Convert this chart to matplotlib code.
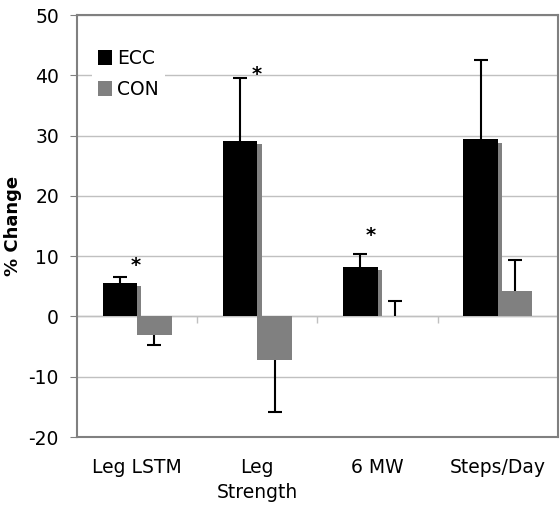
import numpy as np
import matplotlib
matplotlib.use("Agg")
import matplotlib.pyplot as plt

categories = ["Leg LSTM", "Leg\nStrength", "6 MW", "Steps/Day"]
ecc = [5.6, 29.1, 8.2, 29.4]
ecc_err = [0.9, 10.5, 2.1, 13.2]
con = [-3.15, -7.3, 0.0, 4.3]
con_err = [1.55, 8.6, 2.6, 5.1]
# significance marks: category index, x shift, height
ast_idx = [0, 1, 2]
ast_dx = [-0.014, -0.006, -0.056]
ast_y = [9.45, 41.1, 14.4]

plt.rcParams["font.family"] = "DejaVu Sans"
plt.rcParams["font.size"] = 13.5
plt.rcParams["axes.unicode_minus"] = False

fig = plt.figure(figsize=(5.6, 5.07), dpi=100)
ax = fig.add_axes([0.1375, 0.138, 0.8589, 0.8324])

x = np.arange(len(categories))
w = 0.287
grid_c = "#c0c0c0"
frame_c = "#808080"

ax.set_ylim(-20, 50)
ax.set_xlim(-0.5, len(categories) - 0.5)
ax.set_yticks(np.arange(-20, 51, 10))
ax.yaxis.grid(True, color=grid_c, lw=1)
ax.set_axisbelow(True)

# excel-style drop shadow behind the ECC bars
ecc_a = np.array(ecc)
ax.bar(x - w / 2 + 0.036, ecc_a - 0.55, w, color=frame_c, zorder=1.5)
ax.bar(x - w / 2, ecc, w, color="black", label="ECC", zorder=2)
ax.bar(x + w / 2, con, w, color=frame_c, label="CON", zorder=3)


def one_sided(xs, vals, errs):
    vals = np.array(vals)
    ends = np.where(vals < 0, vals - np.array(errs), vals + np.array(errs))
    ax.vlines(xs, vals, ends, color="black", lw=1.5, zorder=4)
    ax.plot(xs, ends, ls="none", marker="_", ms=10, mew=1.5, color="black", zorder=4)


one_sided(x - w / 2, ecc, ecc_err)
one_sided(x + w / 2, con, con_err)

for i, dx, yy in zip(ast_idx, ast_dx, ast_y):
    ax.annotate("*", (x[i] + dx, yy), xytext=(0, -8.0), textcoords="offset points",
                ha="center", va="baseline", fontsize=14, fontweight="bold")

# zero axis line with category dividers
ax.axhline(0, color=grid_c, lw=1, zorder=1)
sec = ax.secondary_xaxis(20 / 70)
sec.set_xticks(x[:-1] + 0.5)
sec.set_xticklabels([])
sec.tick_params(direction="out", length=5, color=grid_c, width=1)
sec.spines["bottom"].set_visible(False)

ax.set_xticks(x)
ax.set_xticklabels(categories, linespacing=1.4)
ax.tick_params(axis="x", length=0, pad=15)
ax.tick_params(axis="y", direction="out", length=5, color=frame_c, pad=8)
for s in ax.spines.values():
    s.set_color(frame_c)
    s.set_linewidth(1.5)

ax.set_ylabel("% Change", fontweight="bold", fontsize=13, labelpad=5)

leg = ax.legend(loc="upper left", bbox_to_anchor=(0.012, 0.955), frameon=True,
                handlelength=0.75, handleheight=0.9, handletextpad=0.3,
                labelspacing=0.65, borderpad=0.3, fontsize=13.5)
leg.get_frame().set_edgecolor("none")
leg.get_frame().set_facecolor("white")
leg.get_frame().set_alpha(1)

fig.savefig("out.png", dpi=100)
